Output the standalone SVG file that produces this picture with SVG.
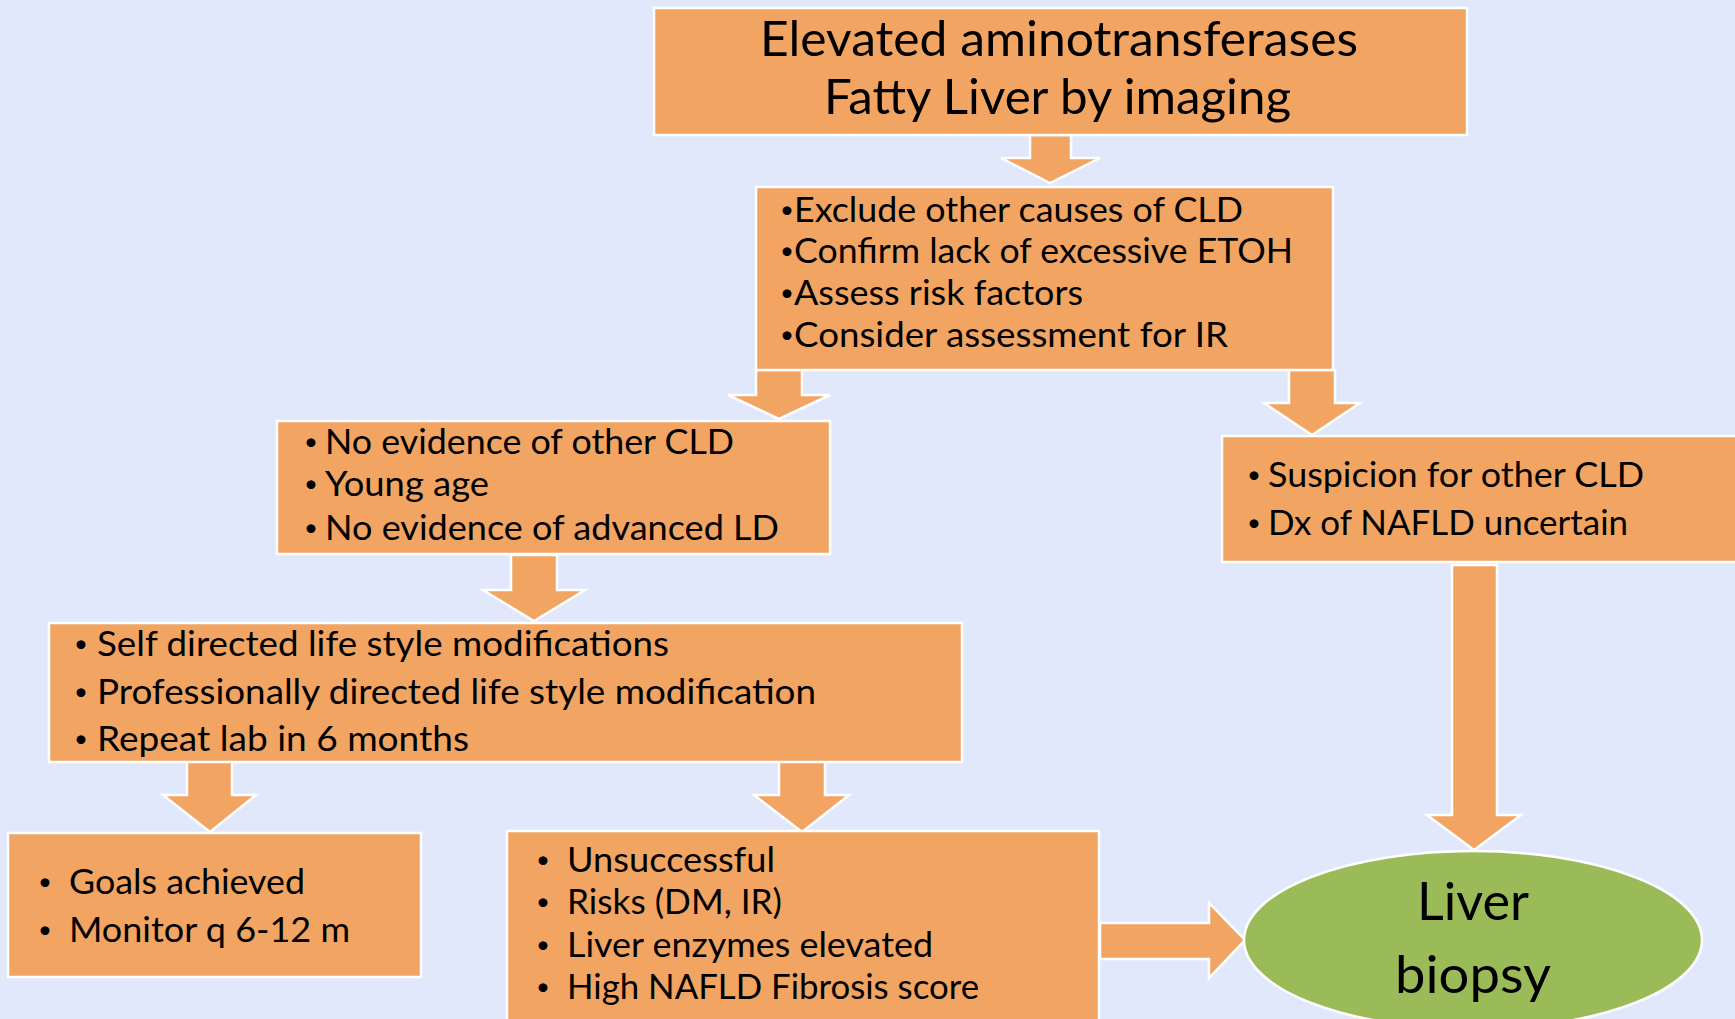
<svg xmlns="http://www.w3.org/2000/svg" width="1735" height="1019" viewBox="0 0 1735 1019">
<style>
.bg{fill:#E2E8FB}
.box{fill:#F2A462;stroke:#FFFFFF;stroke-width:2.5}
.arr{fill:#F2A462;stroke:#FFFFFF;stroke-width:2.5;stroke-linejoin:miter}
.oval{fill:#9BBB59;stroke:#FFFFFF;stroke-width:2.5}
text{font-family:Lato,"Open Sans","Liberation Sans",sans-serif;fill:#000000}
.t1{font-size:48px}
.t2{font-size:35px}
.t3{font-size:53px}
.b{font-size:24px}
</style>
<rect class="bg" x="0" y="0" width="1735" height="1019"/>
<g id="connectors">
  <polygon class="arr" points="1030,135 1071,135 1071,158 1100,158 1050,183 1001,158 1030,158"/>
  <polygon class="arr" points="756,370 802,370 802,395 830,395 779,419 728,395 756,395"/>
  <polygon class="arr" points="1289,370 1335,370 1335,403 1360,403 1312,435 1264,403 1289,403"/>
  <polygon class="arr" points="511,555 557,555 557,590 585,590 534,621 483,590 511,590"/>
  <polygon class="arr" points="187,761 232,761 232,795 256,795 210,832 163,795 187,795"/>
  <polygon class="arr" points="779,761 825,761 825,795 849,795 802,832 754,795 779,795"/>
  <polygon class="arr" points="1452,565 1497,565 1497,815 1521,815 1474,850 1427,815 1452,815"/>
  <polygon class="arr" points="1100,923 1209,923 1209,903 1245,940 1209,978 1209,959 1100,959"/>
</g>
<g id="node-start">
  <rect class="box" x="654" y="8" width="813" height="127"/>
  <text class="t1" x="760" y="56" textLength="598" lengthAdjust="spacingAndGlyphs">Elevated aminotransferases</text>
  <text class="t1" x="824" y="114" textLength="467" lengthAdjust="spacingAndGlyphs">Fatty Liver by imaging</text>
</g>
<g id="node-exclude">
  <rect class="box" x="756" y="187" width="577" height="183"/>
  <text class="t2"><tspan class="b" x="780" y="218">•</tspan><tspan x="794" y="222" textLength="449" lengthAdjust="spacingAndGlyphs">Exclude other causes of CLD</tspan></text>
  <text class="t2"><tspan class="b" x="780" y="259">•</tspan><tspan x="794" y="263" textLength="499" lengthAdjust="spacingAndGlyphs">Confirm lack of excessive ETOH</tspan></text>
  <text class="t2"><tspan class="b" x="780" y="301">•</tspan><tspan x="794" y="305" textLength="289" lengthAdjust="spacingAndGlyphs">Assess risk factors</tspan></text>
  <text class="t2"><tspan class="b" x="780" y="343">•</tspan><tspan x="794" y="347" textLength="434" lengthAdjust="spacingAndGlyphs">Consider assessment for IR</tspan></text>
</g>
<g id="node-no-evidence">
  <rect class="box" x="277" y="421" width="553" height="133"/>
  <text class="t2"><tspan class="b" x="304" y="450">•</tspan><tspan x="325" y="454" textLength="409" lengthAdjust="spacingAndGlyphs">No evidence of other CLD</tspan></text>
  <text class="t2"><tspan class="b" x="304" y="492">•</tspan><tspan x="325" y="496" textLength="164" lengthAdjust="spacingAndGlyphs">Young age</tspan></text>
  <text class="t2"><tspan class="b" x="304" y="536">•</tspan><tspan x="325" y="540" textLength="454" lengthAdjust="spacingAndGlyphs">No evidence of advanced LD</tspan></text>
</g>
<g id="node-suspicion">
  <rect class="box" x="1222" y="436" width="520" height="126"/>
  <text class="t2"><tspan class="b" x="1247" y="483">•</tspan><tspan x="1268" y="487" textLength="376" lengthAdjust="spacingAndGlyphs">Suspicion for other CLD</tspan></text>
  <text class="t2"><tspan class="b" x="1247" y="531">•</tspan><tspan x="1268" y="535" textLength="360" lengthAdjust="spacingAndGlyphs">Dx of NAFLD uncertain</tspan></text>
</g>
<g id="node-lifestyle">
  <rect class="box" x="49" y="623" width="913" height="139"/>
  <text class="t2"><tspan class="b" x="74" y="652">•</tspan><tspan x="97" y="656" textLength="572" lengthAdjust="spacingAndGlyphs">Self directed life style modifications</tspan></text>
  <text class="t2"><tspan class="b" x="74" y="700">•</tspan><tspan x="97" y="704" textLength="719" lengthAdjust="spacingAndGlyphs">Professionally directed life style modification</tspan></text>
  <text class="t2"><tspan class="b" x="74" y="747">•</tspan><tspan x="97" y="751" textLength="372" lengthAdjust="spacingAndGlyphs">Repeat lab in 6 months</tspan></text>
</g>
<g id="node-goals">
  <rect class="box" x="8" y="833" width="413" height="144"/>
  <text class="t2"><tspan class="b" x="38" y="890">•</tspan><tspan x="69" y="894" textLength="236" lengthAdjust="spacingAndGlyphs">Goals achieved</tspan></text>
  <text class="t2"><tspan class="b" x="38" y="938">•</tspan><tspan x="69" y="942" textLength="281" lengthAdjust="spacingAndGlyphs">Monitor q 6-12 m</tspan></text>
</g>
<g id="node-unsuccessful">
  <rect class="box" x="507" y="831" width="592" height="200"/>
  <text class="t2"><tspan class="b" x="536" y="868">•</tspan><tspan x="567" y="872" textLength="208" lengthAdjust="spacingAndGlyphs">Unsuccessful</tspan></text>
  <text class="t2"><tspan class="b" x="536" y="910">•</tspan><tspan x="567" y="914" textLength="215" lengthAdjust="spacingAndGlyphs">Risks (DM, IR)</tspan></text>
  <text class="t2"><tspan class="b" x="536" y="953">•</tspan><tspan x="567" y="957" textLength="366" lengthAdjust="spacingAndGlyphs">Liver enzymes elevated</tspan></text>
  <text class="t2"><tspan class="b" x="536" y="995">•</tspan><tspan x="567" y="999" textLength="412" lengthAdjust="spacingAndGlyphs">High NAFLD Fibrosis score</tspan></text>
</g>
<g id="node-biopsy">
  <ellipse class="oval" cx="1473" cy="940" rx="229" ry="89"/>
  <text class="t3" x="1417" y="920" textLength="112" lengthAdjust="spacingAndGlyphs">Liver</text>
  <text class="t3" x="1395" y="993" textLength="156" lengthAdjust="spacingAndGlyphs">biopsy</text>
</g>
</svg>
